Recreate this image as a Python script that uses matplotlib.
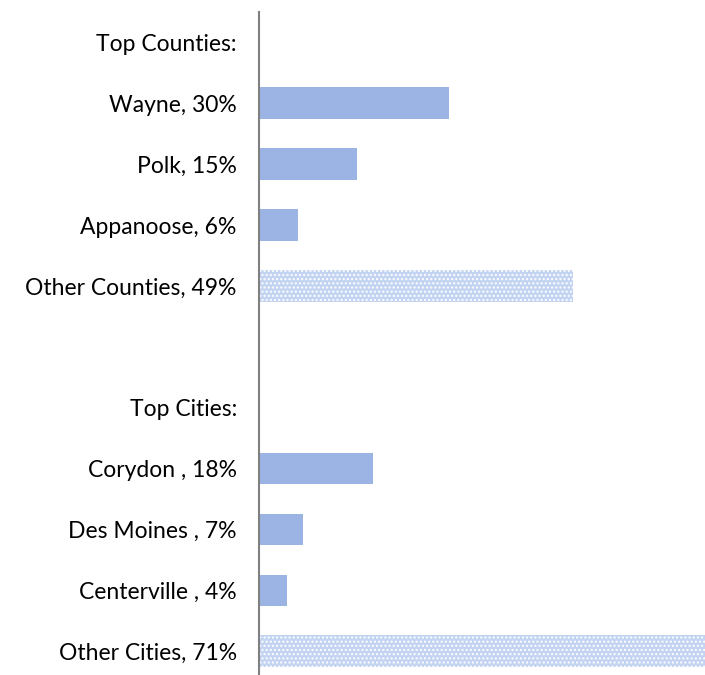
import matplotlib
matplotlib.use("Agg")
import matplotlib.pyplot as plt

labels = ["Top Counties:", "Wayne, 30%", "Polk, 15%", "Appanoose, 6%", "Other Counties, 49%",
          "", "Top Cities:", "Corydon , 18%", "Des Moines , 7%", "Centerville , 4%", "Other Cities, 71%"]
values = [0, 30, 15.5, 6.2, 49.5, 0, 0, 18, 7, 4.4, 71]
is_other = [False, False, False, False, True, False, False, False, False, False, True]

plt.rcParams["font.family"] = ["Lato", "DejaVu Sans"]
plt.rcParams["hatch.linewidth"] = 1.0

fig = plt.figure(figsize=(7.05, 6.75), dpi=100)
ax = fig.add_axes([259 / 705, 0, 446 / 705, 663 / 675])

ypos = list(range(len(labels)))
for y, v, o in zip(ypos, values, is_other):
    if v == 0:
        continue
    if o:
        # "other" bars are drawn with a light dotted fill
        ax.barh(y, v, height=0.52, color="#c3d3f2", hatch="....", edgecolor="white", linewidth=0)
    else:
        ax.barh(y, v, height=0.52, color="#9bb4e4", linewidth=0)

ax.set_xlim(0, 70.3)
ax.set_ylim(10.39, -0.5)
ax.set_yticks(ypos)
ax.set_yticklabels(labels, fontsize=16.5)
ax.tick_params(axis="y", length=0, pad=16)
ax.set_xticks([])
for s in ["top", "right", "bottom"]:
    ax.spines[s].set_visible(False)
ax.spines["left"].set_color("#808080")
ax.spines["left"].set_linewidth(1.5)

plt.savefig("out.png", dpi=100)
